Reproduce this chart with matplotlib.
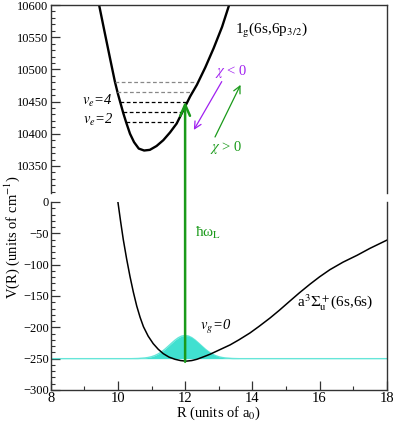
import matplotlib
matplotlib.use("Agg")
import matplotlib.pyplot as plt
from matplotlib.patches import ConnectionPatch
from matplotlib.ticker import MultipleLocator

plt.rcParams['font.family'] = ['Liberation Serif', 'DejaVu Serif']
plt.rcParams['mathtext.fontset'] = 'stix'

# excited state 1g(6s,6p3/2)
R_up = [9.44, 9.60, 9.77, 9.91, 10.00, 10.08, 10.16, 10.25, 10.36, 10.48, 10.62, 10.78,
        10.95, 11.15, 11.35, 11.55, 11.75, 11.95, 12.15, 12.35, 12.60, 12.85, 13.10, 13.31]
V_up = [10600, 10559, 10516, 10481, 10462, 10447, 10432, 10417, 10400, 10387, 10377, 10374,
        10375, 10381, 10390, 10402, 10416, 10437, 10458, 10476, 10503, 10533, 10566, 10600]

# vibrational levels (energy, left and right turning points)
lev_V = [10419, 10434, 10450, 10465, 10481]
lev_Rl = [10.24, 10.15, 10.06, 9.96, 9.91]
lev_Rr = [11.70, 11.90, 12.05, 12.20, 12.29]
lev_col = ['black', 'black', 'black', '#888888', '#888888']

# ground state a3Sigma_u+(6s,6s)
R_lo = [10.0, 10.08, 10.16, 10.26, 10.36, 10.46, 10.56, 10.66, 10.76, 10.90, 11.05, 11.20,
        11.35, 11.52, 11.70, 11.86, 12.03, 12.20, 12.35, 12.55, 12.74, 13.0, 13.34, 13.6,
        13.93, 14.2, 14.53, 14.8, 15.12, 15.4, 15.72, 16.0, 16.31, 16.7, 17.12, 17.5, 18.0]
V_lo = [0, -31, -60, -91, -119, -144, -166, -184, -199, -214, -226, -235,
        -242, -247.5, -251, -253, -254, -253, -251, -247, -243, -236.5, -228, -220,
        -209, -198.5, -185, -173, -158, -145, -131, -119.5, -108, -96, -85, -74, -61]

# v_g=0 wavefunction drawn on top of -250 baseline
R_wf = [8.0, 10.4, 10.6, 10.8, 10.9, 11.0, 11.1, 11.2, 11.3, 11.4, 11.5, 11.6, 11.7, 11.8,
        11.9, 12.0, 12.1, 12.2, 12.3, 12.4, 12.5, 12.6, 12.7, 12.8, 12.9, 13.0, 13.1, 13.2,
        13.4, 13.6, 18.0]
V_wf = [-250, -250, -249.7, -248.9, -248.1, -246.9, -245.0, -242.4, -239.0, -234.8, -230.0,
        -225.1, -220.4, -216.5, -213.9, -213.0, -213.9, -216.5, -220.4, -225.1, -230.0,
        -234.8, -239.0, -242.4, -245.0, -246.9, -248.1, -248.9, -249.7, -250, -250]

R_laser = 12.0
V_laser_start = -255
V_laser_end = 10450

green = '#1a9a1a'
purple = '#a020f0'
cyan = '#40e0d0'

fig = plt.figure(figsize=(3.95, 4.24), dpi=100)
ax_top = fig.add_axes([0.1284, 0.5448, 0.8506, 0.4434])
ax_bot = fig.add_axes([0.1284, 0.0802, 0.8506, 0.4434])

for ax in (ax_top, ax_bot):
    ax.set_xlim(8, 18)
    for s in ax.spines.values():
        s.set_color('#333333')
        s.set_linewidth(1.0)
    ax.tick_params(which='both', direction='in', right=False, top=False, color='#333333')
    ax.tick_params(which='major', length=6.5, width=0.9)
    ax.tick_params(which='minor', length=3.2, width=0.8)
    ax.tick_params(axis='y', labelsize=9, pad=1.5)

ax_top.spines['bottom'].set_visible(False)
ax_bot.spines['top'].set_visible(False)

# top panel
ax_top.set_ylim(10308, 10600)
ax_top.yaxis.set_major_locator(MultipleLocator(50))
ax_top.yaxis.set_minor_locator(MultipleLocator(10))
ax_top.tick_params(axis='x', which='both', bottom=False, labelbottom=False)
ax_top.plot(R_up, V_up, color='black', lw=1.7)
for v, rl, rr, c in zip(lev_V, lev_Rl, lev_Rr, lev_col):
    ax_top.plot([rl, rr], [v, v], color=c, lw=0.9, ls=(0, (3, 2)))

ax_top.text(13.49, 10561, r'1$_\mathrm{g}$(6s,6p$_{3/2}$)', fontsize=11, va='center')
ax_top.text(9.85, 10451, r'$v_e$=4', fontsize=10.5, style='italic', ha='right', va='center')
ax_top.text(9.87, 10421, r'$v_e$=2', fontsize=10.5, style='italic', ha='right', va='center')
ax_top.text(13.37, 10497, r'$\chi$ < 0', color=purple, fontsize=10.5, ha='center', va='center')
ax_top.text(13.22, 10379, r'$\chi$ > 0', color=green, fontsize=10.5, ha='center', va='center')
ax_top.annotate('', xy=(12.26, 10406), xytext=(13.09, 10481),
                arrowprops=dict(arrowstyle='->,head_length=0.5,head_width=0.25',
                                color=purple, lw=0.9, shrinkA=0, shrinkB=0))
ax_top.annotate('', xy=(13.65, 10476), xytext=(12.89, 10395),
                arrowprops=dict(arrowstyle='->,head_length=0.5,head_width=0.25',
                                color=green, lw=0.9, shrinkA=0, shrinkB=0))

# bottom panel
ax_bot.set_ylim(-300, 0)
ax_bot.yaxis.set_major_locator(MultipleLocator(50))
ax_bot.yaxis.set_minor_locator(MultipleLocator(10))
ax_bot.xaxis.set_major_locator(MultipleLocator(2))
ax_bot.xaxis.set_minor_locator(MultipleLocator(1))
ax_bot.tick_params(axis='x', labelsize=10.5, pad=1.5)
ax_bot.fill_between(R_wf, -250, V_wf, color=cyan, lw=0)
ax_bot.plot(R_wf, V_wf, color=cyan, lw=1.0, alpha=0.8)
ax_bot.plot(R_lo, V_lo, color='black', lw=1.1)
ax_bot.set_xlabel(r'R (units of a$_0$)', fontsize=10.5, labelpad=0)

ax_bot.text(12.3, -49, r'ħω$_\mathrm{L}$', color=green, fontsize=11, va='center')
ax_bot.text(12.44, -199, r'$v_g$=0', fontsize=10.5, style='italic', va='center')
ax_bot.text(15.33, -161, r'a$^3\Sigma_\mathrm{u}^+$(6s,6s)', fontsize=11, va='center')

# laser arrow across both panels
arrow = ConnectionPatch(xyA=(R_laser, V_laser_start), coordsA=ax_bot.transData,
                        xyB=(R_laser, V_laser_end), coordsB=ax_top.transData,
                        arrowstyle='->,head_length=0.8,head_width=0.35',
                        color=green, lw=1.8, shrinkA=0, shrinkB=0)
fig.add_artist(arrow)

fig.text(0.032, 0.441, r'V(R) (units of cm$^{-1}$)', rotation=90, fontsize=10.5,
         ha='center', va='center')

fig.savefig('out.png', dpi=100)
